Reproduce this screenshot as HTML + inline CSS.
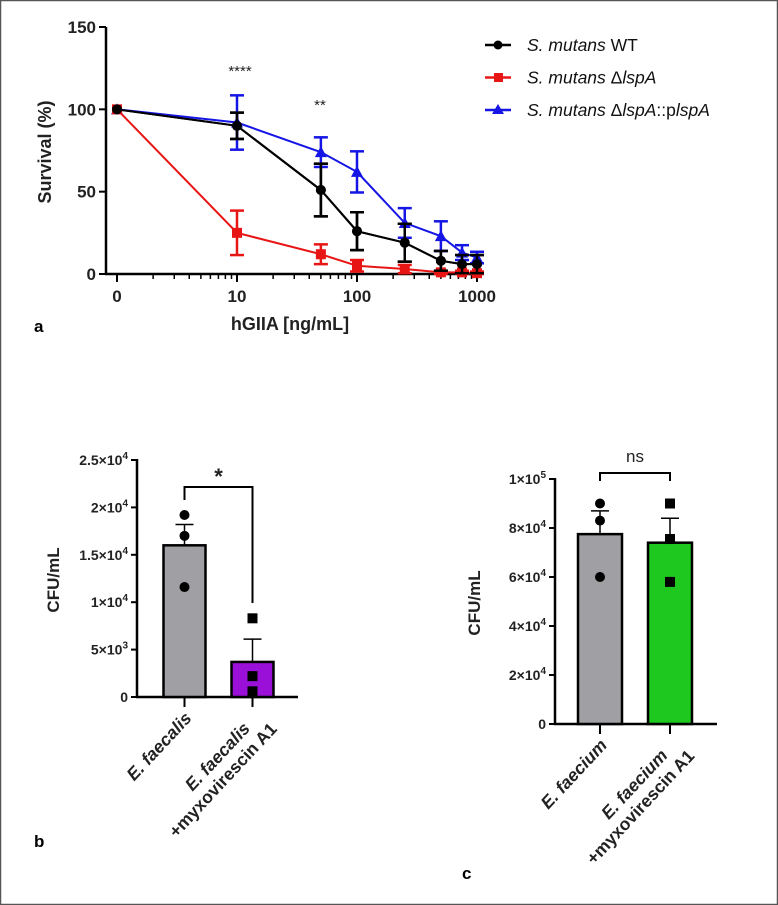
<!DOCTYPE html>
<html><head><meta charset="utf-8"><style>
html,body{margin:0;padding:0;background:#fff}
svg{display:block;font-family:"Liberation Sans",Arial,sans-serif}
</style></head><body>
<svg id="fig" width="778" height="905" viewBox="0 0 778 905" xmlns="http://www.w3.org/2000/svg">
<rect x="0.5" y="0.5" width="777" height="904" fill="#fff" stroke="#555" stroke-width="1.5"/>
<g id="pa"></g>
<g id="pb"></g>
<g id="pc"></g>
</svg>
<script>
// Panel a data
const concs = [1, 10, 50, 100, 250, 500, 750, 1000];
const wtMean = [100, 90, 51, 26, 19, 8, 6, 6];
const wtErr = [0, 8, 16, 11.5, 11.5, 6, 5.5, 5.5];
const lspMean = [100, 25, 12, 5, 3, 1, 1, 0.5];
const lspErr = [0, 13.5, 6, 3.5, 2.5, 1, 1, 1];
const compMean = [100, 92, 74, 62, 31, 23, 13, 10];
const compErr = [0, 16.5, 9, 12.5, 9, 9, 4.5, 3.5];
const aYTicks = [0, 50, 100, 150];
const aXTicks = [1, 10, 100, 1000];
const aXTickLabels = ["0", "10", "100", "1000"];
// Panel b data
const bCats = ["E. faecalis", "E. faecalis"];
const bMeans = [16000, 3700];
const bErr = [2200, 2400];
const bPoints = [[19200, 17000, 11600], [8300, 2200, 600]];
const bYTicks = [0, 5000, 10000, 15000, 20000, 25000];
const bYTickLabels = [["0",""], ["5×10","3"], ["1×10","4"], ["1.5×10","4"], ["2×10","4"], ["2.5×10","4"]];
// Panel c data
const cCats = ["E. faecium", "E. faecium"];
const cMeans = [77500, 74000];
const cErr = [9500, 10000];
const cPoints = [[90000, 83000, 60000], [90000, 75500, 58000]];
const cYTicks = [0, 20000, 40000, 60000, 80000, 100000];
const cYTickLabels = [["0",""], ["2×10","4"], ["4×10","4"], ["6×10","4"], ["8×10","4"], ["1×10","5"]];

const NS = "http://www.w3.org/2000/svg";
function mk(parent, tag, attrs, text) {
  const e = document.createElementNS(NS, tag);
  for (const k in attrs) e.setAttribute(k, attrs[k]);
  if (text !== undefined) e.textContent = text;
  parent.appendChild(e);
  return e;
}

// ---------- Panel A ----------
const pa = document.getElementById('pa');
const ax = c => 117 + 120 * Math.log10(c);
const ay = v => 274 - v * (247 / 150);
let el;
el = mk(pa, 'line', {x1:106, y1:27, x2:106, y2:275, stroke:'#000', 'stroke-width':2.5});
 
el = mk(pa, 'line', {x1:105, y1:274, x2:483, y2:274, stroke:'#000', 'stroke-width':2.5});
 
aYTicks.forEach(v => {
  mk(pa, 'line', {x1:99, y1:ay(v), x2:106, y2:ay(v), stroke:'#000', 'stroke-width':2});
  el = mk(pa, 'text', {x:96, y:ay(v)+6, 'text-anchor':'end', 'font-size':17, 'font-weight':'bold', fill:'#222'}, String(v));
   
});
for (let d = 0; d < 3; d++) {
  for (let m = 1; m <= 9; m++) {
    const c = m * Math.pow(10, d);
    const major = m === 1;
    mk(pa, 'line', {x1:ax(c), y1:274, x2:ax(c), y2:major?282:279, stroke:'#000', 'stroke-width':major?2:1.5});
  }
}
mk(pa, 'line', {x1:ax(1000), y1:274, x2:ax(1000), y2:282, stroke:'#000', 'stroke-width':2});
aXTicks.forEach((c, i) => {
  el = mk(pa, 'text', {x:ax(c), y:302, 'text-anchor':'middle', 'font-size':17, 'font-weight':'bold', fill:'#222'}, aXTickLabels[i]);
   
});
el = mk(pa, 'text', {x:290, y:330, 'text-anchor':'middle', 'font-size':18, 'font-weight':'bold', fill:'#222'}, 'hGIIA [ng/mL]');
 
el = mk(pa, 'text', {x:0, y:0, transform:'translate(51,152) rotate(-90)', 'text-anchor':'middle', 'font-size':18, 'font-weight':'bold', fill:'#222'}, 'Survival (%)');
 
el = mk(pa, 'text', {x:34, y:332, 'font-size':17, 'font-weight':'bold', fill:'#000'}, 'a');
 
el = mk(pa, 'text', {x:240, y:76, 'text-anchor':'middle', 'font-size':15, fill:'#222'}, '****');
 
el = mk(pa, 'text', {x:320, y:110, 'text-anchor':'middle', 'font-size':15, fill:'#222'}, '**');
 

function series(name, means, errs, color, shape) {
  const g = mk(pa, 'g', {});
   
  const pts = concs.map((c, i) => ax(c) + ',' + ay(means[i])).join(' ');
  mk(g, 'polyline', {points:pts, fill:'none', stroke:color, 'stroke-width':2});
  concs.forEach((c, i) => {
    const x = ax(c);
    if (errs[i] > 0) {
      const y1 = ay(means[i] + errs[i]), y2 = ay(Math.max(0, means[i] - errs[i]));
      mk(g, 'line', {x1:x, y1:y1, x2:x, y2:y2, stroke:color, 'stroke-width':2.5});
      mk(g, 'line', {x1:x-7, y1:y1, x2:x+7, y2:y1, stroke:color, 'stroke-width':2.5});
      mk(g, 'line', {x1:x-7, y1:y2, x2:x+7, y2:y2, stroke:color, 'stroke-width':2.5});
    }
    const y = ay(means[i]);
    let m;
    if (shape === 'circle') m = mk(g, 'circle', {cx:x, cy:y, r:5, fill:color});
    else if (shape === 'square') m = mk(g, 'rect', {x:x-5, y:y-5, width:10, height:10, fill:color});
    else m = mk(g, 'polygon', {points:`${x},${y-6} ${x-6},${y+5} ${x+6},${y+5}`, fill:color});
     
  });
}
series('series-wt', wtMean, wtErr, '#000', 'circle');
series('series-comp', compMean, compErr, '#1515e6', 'triangle');
series('series-lspa', lspMean, lspErr, '#e81515', 'square');
series('series-wt-front', wtMean, wtErr, '#000', 'circle');

const legend = [['#000', 'circle'], ['#e81515', 'square'], ['#1515e6', 'triangle']];
legend.forEach((L, i) => {
  const y = 45 + i * 32.5;
  const g = mk(pa, 'g', {});
   
  mk(g, 'line', {x1:485, y1:y, x2:511, y2:y, stroke:L[0], 'stroke-width':2.5});
  if (L[1] === 'circle') mk(g, 'circle', {cx:498, cy:y, r:4.5, fill:L[0]});
  else if (L[1] === 'square') mk(g, 'rect', {x:494, y:y-4.5, width:9, height:9, fill:L[0]});
  else mk(g, 'polygon', {points:`498,${y-6} 492,${y+4} 504,${y+4}`, fill:L[0]});
  const t = mk(g, 'text', {x:527, y:y+6, 'font-size':17.5, fill:'#111'});
  mk(t, 'tspan', {'font-style':'italic'}, 'S. mutans');
  if (i === 0) mk(t, 'tspan', {}, ' WT');
  else if (i === 1) { mk(t, 'tspan', {}, ' Δ'); mk(t, 'tspan', {'font-style':'italic'}, 'lspA'); }
  else { mk(t, 'tspan', {}, ' Δ'); mk(t, 'tspan', {'font-style':'italic'}, 'lspA'); mk(t, 'tspan', {}, '::p'); mk(t, 'tspan', {'font-style':'italic'}, 'lspA'); }
});

// ---------- Bar panels ----------
function barPanel(gid, o) {
  const g = document.getElementById(gid);
  const y = v => o.y0 - v * (o.y0 - o.yTop) / o.yMax;
  let e;
  e = mk(g, 'line', {x1:o.axX, y1:o.yTop-1, x2:o.axX, y2:o.y0+1, stroke:'#000', 'stroke-width':2.5});
   
  e = mk(g, 'line', {x1:o.axX-1, y1:o.y0, x2:o.axEnd, y2:o.y0, stroke:'#000', 'stroke-width':2.5});
   
  o.ticks.forEach((v, i) => {
    mk(g, 'line', {x1:o.axX-6, y1:y(v), x2:o.axX, y2:y(v), stroke:'#000', 'stroke-width':2});
    const t = mk(g, 'text', {x:o.axX-9, y:y(v)+5, 'text-anchor':'end', 'font-size':14, fill:'#222', 'font-weight':'bold'});
     
    mk(t, 'tspan', {}, o.labels[i][0]);
    if (o.labels[i][1]) mk(t, 'tspan', {dy:-6, 'font-size':10}, o.labels[i][1]);
  });
  e = mk(g, 'text', {x:0, y:0, transform:`translate(${o.titleX},${o.titleY}) rotate(-90)`, 'text-anchor':'middle', 'font-size':17, 'font-weight':'bold', fill:'#222'}, 'CFU/mL');
   
  o.means.forEach((m, i) => {
    const cx = o.centers[i], w = o.barW;
    e = mk(g, 'rect', {x:cx-w/2, y:y(m), width:w, height:o.y0-y(m), fill:o.colors[i], stroke:'#000', 'stroke-width':2.5});
     
    const et = y(m + o.err[i]);
    mk(g, 'line', {x1:cx, y1:y(m), x2:cx, y2:et, stroke:'#000', 'stroke-width':1.5});
    mk(g, 'line', {x1:cx-9, y1:et, x2:cx+9, y2:et, stroke:'#000', 'stroke-width':1.5});
    o.points[i].forEach(p => {
      let d;
      if (i === 0) d = mk(g, 'circle', {cx:cx, cy:y(p), r:5, fill:'#000'});
      else d = mk(g, 'rect', {x:cx-5, y:y(p)-5, width:10, height:10, fill:'#000'});
       
    });
    mk(g, 'line', {x1:cx, y1:o.y0, x2:cx, y2:o.y0+10, stroke:'#000', 'stroke-width':2});
    const lx = cx + 8, ly = o.y0 + 22;
    const t = mk(g, 'text', {transform:`translate(${lx},${ly}) rotate(-47)`, 'text-anchor':'end', 'font-size':17.5, 'font-weight':'bold', fill:'#222'});
     
    if (i === 0) { mk(t, 'tspan', {x:0, y:0, 'font-style':'italic'}, o.cats[i]); }
    else {
      mk(t, 'tspan', {x:-14, y:0, 'font-style':'italic'}, o.cats[i]);
      mk(t, 'tspan', {x:4, y:20}, '+myxovirescin A1');
    }
  });
  const bx1 = o.centers[0], bx2 = o.centers[1];
  e = mk(g, 'polyline', {points:`${bx1},${o.brL} ${bx1},${o.brY} ${bx2},${o.brY} ${bx2},${o.brR}`, fill:'none', stroke:'#000', 'stroke-width':2});
   
  e = mk(g, 'text', {x:(bx1+bx2)/2, y:o.sigY, 'text-anchor':'middle', 'font-size':o.sigSize, fill:'#222', 'font-weight':o.sigW}, o.sig);
   
  e = mk(g, 'text', {x:o.lblX, y:o.lblY, 'font-size':17, 'font-weight':'bold', fill:'#000'}, o.letter);
   
}
barPanel('pb', {key:'panel-b', axX:137, axEnd:298, y0:697, yTop:460, yMax:25000, ticks:bYTicks, labels:bYTickLabels,
  means:bMeans, err:bErr, points:bPoints, cats:bCats, centers:[184.5,252.5], barW:42, colors:['#a0a0a4','#9a10d8'],
  brY:487, brL:500, brR:603, sig:'*', sigY:484, sigSize:22, sigW:'bold', titleX:59, titleY:580, letter:'b', lblX:34, lblY:847});
barPanel('pc', {key:'panel-c', axX:555, axEnd:717, y0:724, yTop:479, yMax:100000, ticks:cYTicks, labels:cYTickLabels,
  means:cMeans, err:cErr, points:cPoints, cats:cCats, centers:[600,670], barW:44, colors:['#a0a0a4','#1ec81e'],
  brY:473, brL:481, brR:481, sig:'ns', sigY:462, sigSize:17, sigW:'normal', titleX:480, titleY:603, letter:'c', lblX:462, lblY:879});
</script>
</body></html>
